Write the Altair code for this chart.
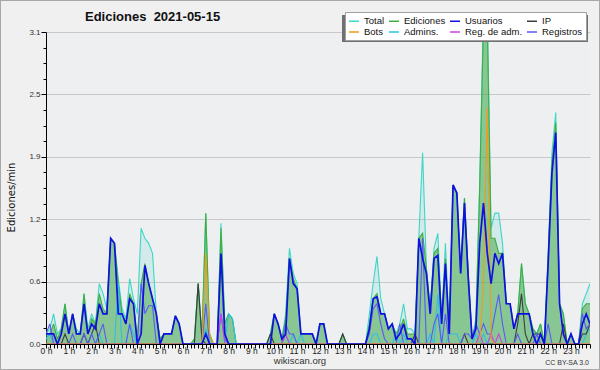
import altair as alt
import pandas as pd

# ---- data: edits per minute, 10-minute bins from 00:00 to 23:50 ----
total = [
    0.1, 0.15, 0.3, 0.1, 0.15, 0.4,      # 0h
    0.1, 0.3, 0.15, 0.1, 0.5, 0.15,      # 1h
    0.3, 0.2, 0.6, 0.5, 0.35, 1.05,      # 2h
    1.0, 0.65, 0.35, 0.25, 0.65, 0.45,   # 3h
    0.3, 1.15, 1.05, 1.0, 0.9, 0.3,      # 4h
    0.05, 0.1, 0.1, 0.1, 0.28, 0.2,      # 5h
    0, 0, 0, 0.05, 0.6, 0.1,             # 6h
    1.3, 0.1, 0, 0, 1.2, 0.2,            # 7h
    0.3, 0.25, 0, 0, 0, 0,               # 8h
    0, 0, 0, 0, 0, 0.1,                  # 9h
    0.3, 0.2, 0.05, 0.3, 0.95, 0.7,      # 10h
    0.6, 0.1, 0.1, 0.1, 0.1, 0,          # 11h
    0.2, 0.2, 0, 0, 0, 0,                # 12h
    0.1, 0, 0, 0, 0, 0,                  # 13h
    0, 0.3, 0.6, 0.87, 0.45, 0.3,        # 14h
    0.15, 0.2, 0.1, 0.2, 0.4, 0.15,      # 15h
    0.15, 0.1, 1.05, 1.9, 0.75, 0.35,    # 16h
    0.95, 1.1, 0.25, 1.0, 0.15, 1.58,    # 17h
    1.5, 0.7, 1.45, 0.7, 0.05, 0.25,     # 18h
    1.6, 3.3, 3.3, 1.15, 1.3, 1.3,       # 19h
    1.0, 0.4, 0.4, 0.15, 0.3, 0.8,       # 20h
    0.4, 0.3, 0.15, 0.1, 0.2, 0.0,       # 21h
    0.9, 1.9, 2.3, 0.4, 0.3, 0.0,        # 22h
    0.1, 0.0, 0.0, 0.4, 0.5, 0.6,        # 23h
]
ediciones = [
    0.1, 0.1, 0.2, 0.05, 0.15, 0.4,
    0.1, 0.3, 0.1, 0.1, 0.5, 0.1,
    0.25, 0.2, 0.5, 0.35, 0.3, 1.05,
    1.0, 0.6, 0.3, 0.2, 0.5, 0.4,
    0.05, 0.6, 0.8, 0.6, 0.45, 0.3,
    0.05, 0.1, 0.1, 0.1, 0.28, 0.2,
    0, 0, 0, 0.05, 0.6, 0.05,
    1.3, 0.1, 0, 0, 1.15, 0.2,
    0.3, 0.25, 0, 0, 0, 0,
    0, 0, 0, 0, 0, 0.1,
    0.3, 0.2, 0.05, 0.25, 0.85, 0.65,
    0.55, 0.1, 0.1, 0.1, 0.1, 0,
    0.2, 0.2, 0, 0, 0, 0,
    0.1, 0, 0, 0, 0, 0,
    0, 0.2, 0.45, 0.5, 0.3, 0.3,
    0.15, 0.2, 0.1, 0.15, 0.25, 0.1,
    0.1, 0.1, 1.05, 1.1, 0.75, 0.35,
    0.9, 0.95, 0.25, 0.85, 0.1, 1.58,
    1.5, 0.7, 1.45, 0.7, 0.05, 0.2,
    1.55, 3.2, 3.2, 1.05, 1.05, 0.9,
    0.9, 0.4, 0.4, 0.15, 0.3, 0.8,
    0.4, 0.3, 0.15, 0.1, 0.2, 0.0,
    0.85, 1.8, 2.2, 0.4, 0.3, 0.0,
    0.1, 0.0, 0.0, 0.35, 0.4, 0.4,
]
usuarios = [
    0.1, 0.1, 0.1, 0.0, 0.1, 0.3,
    0.1, 0.3, 0.1, 0.1, 0.4, 0.1,
    0.2, 0.15, 0.4, 0.3, 0.3, 1.05,
    1.0, 0.3, 0.3, 0.2, 0.45, 0.4,
    0.0, 0.1, 0.78, 0.6, 0.45, 0.3,
    0.0, 0.1, 0.1, 0.1, 0.28, 0.2,
    0, 0, 0, 0, 0, 0,
    0.1, 0, 0, 0, 0.9, 0.1,
    0, 0, 0, 0, 0, 0,
    0, 0, 0, 0, 0, 0,
    0.3, 0.2, 0.05, 0.1, 0.85, 0.6,
    0.55, 0.1, 0.1, 0.1, 0.1, 0,
    0.2, 0.2, 0, 0, 0, 0,
    0, 0, 0, 0, 0, 0,
    0, 0.15, 0.45, 0.47, 0.3, 0.3,
    0.15, 0.2, 0.05, 0.1, 0.2, 0.05,
    0.05, 0, 1.05, 0.85, 0.7, 0.3,
    0.85, 0.88, 0.2, 0.8, 0.1, 1.58,
    1.5, 0.7, 1.4, 0.65, 0.05, 0.15,
    1.0, 1.4, 0.9, 0.6, 0.9, 0.8,
    0.9, 0.4, 0.4, 0.15, 0.3, 0.3,
    0.3, 0.3, 0.1, 0.0, 0.1, 0.0,
    0.8, 1.7, 2.1, 0.4, 0.1, 0.0,
    0.1, 0.0, 0.0, 0.2, 0.3, 0.2,
]
ip = [
    0, 0, 0, 0, 0, 0.1,
    0, 0, 0, 0, 0.1, 0,
    0.1, 0.2, 0, 0, 0, 0,
    0, 0, 0, 0, 0, 0,
    0, 0, 0, 0, 0, 0,
    0, 0, 0, 0, 0, 0,
    0, 0, 0, 0, 0.6, 0.05,
    0, 0, 0, 0, 0, 0,
    0, 0, 0, 0, 0, 0,
    0, 0, 0, 0, 0, 0.1,
    0, 0, 0, 0, 0, 0,
    0, 0, 0, 0, 0, 0,
    0, 0, 0, 0, 0, 0,
    0.1, 0, 0, 0, 0, 0,
    0, 0, 0, 0, 0, 0,
    0, 0, 0, 0, 0, 0,
    0, 0.1, 0, 0, 0, 0,
    0, 0, 0, 0, 0, 0,
    0, 0, 0.1, 0, 0, 0,
    0, 0, 0, 0, 0, 0,
    0, 0, 0, 0, 0.2, 0.5,
    0.1, 0, 0.1, 0.1, 0.1, 0,
    0, 0, 0, 0, 0.2, 0,
    0, 0, 0, 0.1, 0.1, 0.2,
]
bots = [0.0] * 42 + [0.9, 0.1] + [0.0] * 71 + [0.6, 2.35, 0.05] + [0.0] * 26
admins = [
    0.05, 0.1, 0, 0, 0, 0,
    0, 0, 0, 0, 0, 0,
    0, 0, 0.1, 0, 0, 0,
    0, 0.6, 0, 0, 0.2, 0.1,
    0, 0, 0, 0, 0, 0,
    0, 0, 0, 0, 0, 0,
    0, 0, 0, 0, 0, 0,
    0.15, 0, 0, 0, 0, 0,
    0.3, 0.25, 0, 0, 0, 0,
    0, 0, 0, 0, 0, 0,
    0, 0, 0, 0.1, 0, 0.1,
    0, 0.1, 0, 0, 0, 0,
    0, 0, 0, 0, 0, 0,
    0, 0, 0, 0, 0, 0,
    0, 0, 0.1, 0.1, 0, 0,
    0, 0, 0.1, 0, 0.1, 0,
    0, 0, 0, 0, 0, 0.1,
    0, 0.5, 0, 0, 0.1, 0.1,
    0.1, 0, 0, 0, 0, 0.1,
    0, 0.1, 0, 0.1, 0, 0,
    0, 0, 0, 0, 0, 0,
    0, 0, 0, 0, 0, 0,
    0, 0, 0, 0, 0, 0,
    0, 0, 0, 0, 0.1, 0.15,
]
reg_adm = [0.0] * 46 + [0.3] + [0.0] * 16 + [0.1] + [0.0] * 50 + [0.1, 0, 0, 0.1, 0, 0.1] + [0.0] * 24
registros = [
    0.1, 0.2, 0, 0, 0, 0,
    0, 0.1, 0, 0, 0.1, 0,
    0.1, 0, 0.1, 0.2, 0, 0,
    0, 0, 0, 0, 0.2, 0,
    0, 0.6, 0.3, 0.38, 0.38, 0,
    0, 0, 0, 0, 0, 0,
    0, 0, 0, 0, 0, 0,
    0.4, 0, 0, 0, 0.3, 0.05,
    0, 0, 0, 0, 0, 0,
    0, 0, 0, 0, 0, 0,
    0, 0, 0, 0.2, 0.1, 0.1,
    0, 0, 0, 0, 0, 0,
    0, 0, 0, 0, 0, 0,
    0, 0, 0, 0, 0, 0,
    0, 0.1, 0.35, 0.4, 0.2, 0.05,
    0, 0, 0, 0.2, 0, 0,
    0, 0, 0, 1.05, 0, 0,
    0.2, 0.3, 0, 0.3, 0, 0,
    0, 0, 0.1, 0.1, 0.05, 0.2,
    0.1, 0.2, 0.1, 0.1, 0.3, 0.49,
    0.2, 0, 0, 0, 0.1, 0,
    0, 0, 0, 0.1, 0, 0,
    0.2, 0, 0, 0, 0, 0,
    0, 0, 0, 0.3, 0.15, 0.2,
]

names = ["Total", "Ediciones", "Usuarios", "IP", "Bots", "Admins.", "Reg. de adm.", "Registros"]
colors = ["#3fd6c6", "#3fae3f", "#1010e0", "#3c3c3c", "#f39a1e", "#2cc0e8", "#cc44dd", "#5a5af5"]
values = [total, ediciones, usuarios, ip, bots, admins, reg_adm, registros]
for v in values:
    assert len(v) == 144, len(v)

# legend is filled column by column (2 rows x 4 columns)
legend_order = ["Total", "Bots", "Ediciones", "Admins.", "Usuarios", "Reg. de adm.", "IP", "Registros"]
legend_colors = [colors[names.index(n)] for n in legend_order]

rows = []
for name, vals in zip(names, values):
    for i, v in enumerate(vals):
        rows.append({"t": i / 6, "serie": name, "v": v})
df = pd.DataFrame(rows)

# ---- axes ----
xticks = [round(i / 6, 6) for i in range(144)]
x_enc = alt.X(
    "t:Q",
    scale=alt.Scale(domain=[0, 143 / 6], nice=False, zero=False),
    axis=alt.Axis(
        values=xticks,
        labelExpr="abs(datum.value - round(datum.value)) < 0.01 ? round(datum.value) + ' h' : ''",
        labelOverlap=False, labelFlush=False, labelAlign="center",
        tickSize=4, tickColor="#000", domainColor="#000",
        labelFont="Liberation Sans", labelFontSize=8.5, labelColor="#222",
        labelPadding=-2, grid=False, title=None,
    ),
)
major = "abs(datum.value / 0.62 - round(datum.value / 0.62)) < 0.01"
yticks = [round(k * 0.155, 4) for k in range(21)]
y_enc = alt.Y(
    "v:Q",
    scale=alt.Scale(domain=[0, 3.1], nice=False),
    axis=alt.Axis(
        values=yticks,
        labelExpr=major + " ? format(datum.value, '.1f') : ''",
        labelOverlap=False, labelFlush=False,
        gridOpacity={"condition": {"test": major, "value": 1}, "value": 0},
        tickSize={"condition": {"test": major, "value": 5}, "value": 3},
        gridColor="#c8c8c8", tickColor="#000", domainColor="#000",
        labelFont="Liberation Sans", labelFontSize=8, labelColor="#333", labelPadding=1,
        title="Ediciones/min", titleFont="DejaVu Sans", titleFontSize=10,
        titleFontWeight="normal", titleColor="#111",
        titleX=-35, titleY=165, titleAngle=-90, titleAlign="center", titleBaseline="middle",
    ),
)
color_enc = alt.Color(
    "serie:N",
    scale=alt.Scale(domain=legend_order, range=legend_colors),
    legend=alt.Legend(
        title=None, orient="none", legendX=299, legendY=-20, columns=4,
        symbolType="stroke", symbolSize=100, symbolStrokeWidth=1.5,
        labelFont="Liberation Sans", labelFontSize=9.5, labelColor="#111",
        labelOffset=4, rowPadding=0, columnPadding=1, padding=3,
        labelLimit=200,
        fillColor="#ffffff", strokeColor="#a0a0a0", zindex=1,
    ),
)

base = alt.Chart(df)

area_total = base.transform_filter(alt.datum.serie == "Total").mark_area(
    color="#40d0c0", opacity=0.15, clip=True
).encode(x=x_enc, y=y_enc)
area_ed = base.transform_filter(alt.datum.serie == "Ediciones").mark_area(
    color="#4aa84a", opacity=0.55, clip=True
).encode(x=x_enc, y=y_enc)

line_order = ["Total", "Ediciones", "Admins.", "IP", "Registros", "Reg. de adm.", "Bots", "Usuarios"]
lines = []
for name in line_order:
    lines.append(
        base.transform_filter(alt.datum.serie == name).mark_line(
            clip=True, strokeWidth=1.7 if name == "Usuarios" else 1.1,
            strokeMiterLimit=3,
        ).encode(x=x_enc, y=y_enc, color=color_enc)
    )

one = pd.DataFrame({"a": [0]})
shadow = alt.Chart(one).mark_rect(color="#707070").encode(
    x=alt.value(296), x2=alt.value(542), y=alt.value(-17), y2=alt.value(10)
)
frame = alt.Chart(one).mark_rect(fillOpacity=0, stroke="#a8a8a8", strokeWidth=2).encode(
    x=alt.value(-46), x2=alt.value(554), y=alt.value(-32), y2=alt.value(338)
)

texts = pd.DataFrame({"txt": ["Ediciones \u00a02021-05-15", "wikiscan.org", "CC BY-SA 3.0"]})
title = alt.Chart(texts).transform_filter(alt.datum.txt == "Ediciones \u00a02021-05-15").mark_text(
    align="left", baseline="alphabetic", font="Liberation Sans", fontSize=13,
    fontWeight="bold", color="#111"
).encode(x=alt.value(39), y=alt.value(-11), text="txt:N")
foot1 = alt.Chart(texts).transform_filter(alt.datum.txt == "wikiscan.org").mark_text(
    align="center", baseline="alphabetic", font="Liberation Sans", fontSize=9.5, color="#333"
).encode(x=alt.value(254), y=alt.value(332), text="txt:N")
foot2 = alt.Chart(texts).transform_filter(alt.datum.txt == "CC BY-SA 3.0").mark_text(
    align="right", baseline="alphabetic", font="Liberation Sans", fontSize=7, color="#333"
).encode(x=alt.value(543), y=alt.value(333), text="txt:N")

chart = alt.layer(
    area_total, area_ed, *lines, shadow, title, foot1, foot2, frame
).properties(
    width=544, height=312,
    padding={"left": 46, "top": 32, "right": 10, "bottom": 26},
    autosize=alt.AutoSizeParams(type="none"),
    background="#f0f0f0",
).configure_view(fill="#edeff1", strokeWidth=0)

chart.save("out.html", embed_options={"renderer": "svg", "actions": False})
